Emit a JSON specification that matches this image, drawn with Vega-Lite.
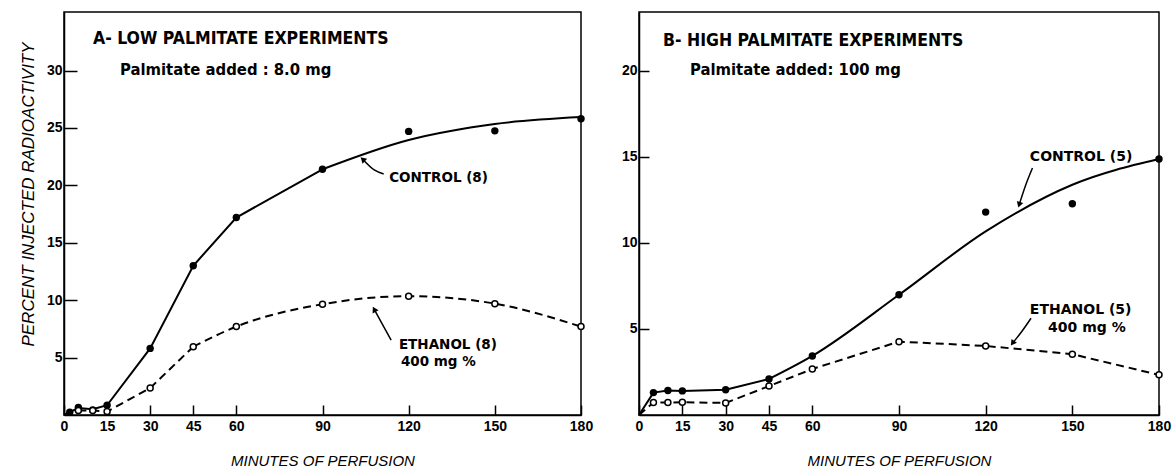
{
  "$schema": "https://vega.github.io/schema/vega-lite/v6.json",
  "background": "white",
  "padding": {"left": 18, "top": 11, "right": 5, "bottom": 5},
  "spacing": 58,
  "bounds": "flush",
  "datasets": {
    "obs": [
      {"panel": "A", "series": "Control", "minutes": 2, "pct": 0.25},
      {"panel": "A", "series": "Control", "minutes": 5, "pct": 0.65},
      {"panel": "A", "series": "Control", "minutes": 10, "pct": 0.45},
      {"panel": "A", "series": "Control", "minutes": 15, "pct": 0.85},
      {"panel": "A", "series": "Control", "minutes": 30, "pct": 5.8},
      {"panel": "A", "series": "Control", "minutes": 45, "pct": 13.0},
      {"panel": "A", "series": "Control", "minutes": 60, "pct": 17.2},
      {"panel": "A", "series": "Control", "minutes": 90, "pct": 21.4},
      {"panel": "A", "series": "Control", "minutes": 120, "pct": 24.7},
      {"panel": "A", "series": "Control", "minutes": 150, "pct": 24.75},
      {"panel": "A", "series": "Control", "minutes": 180, "pct": 25.8},
      {"panel": "A", "series": "Ethanol", "minutes": 5, "pct": 0.4},
      {"panel": "A", "series": "Ethanol", "minutes": 10, "pct": 0.4},
      {"panel": "A", "series": "Ethanol", "minutes": 15, "pct": 0.3},
      {"panel": "A", "series": "Ethanol", "minutes": 30, "pct": 2.35},
      {"panel": "A", "series": "Ethanol", "minutes": 45, "pct": 5.95},
      {"panel": "A", "series": "Ethanol", "minutes": 60, "pct": 7.7},
      {"panel": "A", "series": "Ethanol", "minutes": 90, "pct": 9.65},
      {"panel": "A", "series": "Ethanol", "minutes": 120, "pct": 10.35},
      {"panel": "A", "series": "Ethanol", "minutes": 150, "pct": 9.7},
      {"panel": "A", "series": "Ethanol", "minutes": 180, "pct": 7.7},
      {"panel": "B", "series": "Control", "minutes": 5, "pct": 1.3},
      {"panel": "B", "series": "Control", "minutes": 10, "pct": 1.42},
      {"panel": "B", "series": "Control", "minutes": 15, "pct": 1.4},
      {"panel": "B", "series": "Control", "minutes": 30, "pct": 1.47},
      {"panel": "B", "series": "Control", "minutes": 45, "pct": 2.09},
      {"panel": "B", "series": "Control", "minutes": 60, "pct": 3.43},
      {"panel": "B", "series": "Control", "minutes": 90, "pct": 6.98},
      {"panel": "B", "series": "Control", "minutes": 120, "pct": 11.78},
      {"panel": "B", "series": "Control", "minutes": 150, "pct": 12.27},
      {"panel": "B", "series": "Control", "minutes": 180, "pct": 14.86},
      {"panel": "B", "series": "Ethanol", "minutes": 0, "pct": 0},
      {"panel": "B", "series": "Ethanol", "minutes": 5, "pct": 0.72},
      {"panel": "B", "series": "Ethanol", "minutes": 10, "pct": 0.72},
      {"panel": "B", "series": "Ethanol", "minutes": 15, "pct": 0.74},
      {"panel": "B", "series": "Ethanol", "minutes": 30, "pct": 0.7},
      {"panel": "B", "series": "Ethanol", "minutes": 45, "pct": 1.68},
      {"panel": "B", "series": "Ethanol", "minutes": 60, "pct": 2.67},
      {"panel": "B", "series": "Ethanol", "minutes": 90, "pct": 4.26},
      {"panel": "B", "series": "Ethanol", "minutes": 120, "pct": 4.01},
      {"panel": "B", "series": "Ethanol", "minutes": 150, "pct": 3.53},
      {"panel": "B", "series": "Ethanol", "minutes": 180, "pct": 2.33}
    ],
    "curve": [
      {"panel": "A", "minutes": 0, "pct": 0},
      {"panel": "A", "minutes": 2, "pct": 0.25},
      {"panel": "A", "minutes": 5, "pct": 0.6},
      {"panel": "A", "minutes": 10, "pct": 0.5},
      {"panel": "A", "minutes": 15, "pct": 0.85},
      {"panel": "A", "minutes": 30, "pct": 5.8},
      {"panel": "A", "minutes": 45, "pct": 13.0},
      {"panel": "A", "minutes": 60, "pct": 17.2},
      {"panel": "A", "minutes": 90, "pct": 21.4},
      {"panel": "A", "minutes": 120, "pct": 23.95},
      {"panel": "A", "minutes": 150, "pct": 25.35},
      {"panel": "A", "minutes": 180, "pct": 25.95},
      {"panel": "B", "minutes": 0, "pct": 0},
      {"panel": "B", "minutes": 5, "pct": 1.3},
      {"panel": "B", "minutes": 10, "pct": 1.42},
      {"panel": "B", "minutes": 15, "pct": 1.4},
      {"panel": "B", "minutes": 30, "pct": 1.47},
      {"panel": "B", "minutes": 45, "pct": 2.09},
      {"panel": "B", "minutes": 60, "pct": 3.43},
      {"panel": "B", "minutes": 90, "pct": 6.98},
      {"panel": "B", "minutes": 120, "pct": 10.66},
      {"panel": "B", "minutes": 150, "pct": 13.37},
      {"panel": "B", "minutes": 180, "pct": 14.86}
    ],
    "notes": [
      {"panel": "A", "kind": "title", "label": "A- LOW PALMITATE  EXPERIMENTS", "minutes": 10.1, "pct": 32.75},
      {"panel": "A", "kind": "sub", "label": "Palmitate added :  8.0 mg", "minutes": 19.5, "pct": 30.05},
      {"panel": "A", "kind": "label", "label": "CONTROL (8)", "minutes": 113.2, "pct": 20.64},
      {"panel": "A", "kind": "label", "label": "ETHANOL (8)", "minutes": 116.6, "pct": 6.1},
      {"panel": "A", "kind": "label", "label": "400 mg %", "minutes": 117.3, "pct": 4.62},
      {"panel": "B", "kind": "title", "label": "B- HIGH PALMITATE EXPERIMENTS", "minutes": 8.3, "pct": 21.69},
      {"panel": "B", "kind": "sub", "label": "Palmitate added:  100 mg", "minutes": 17.65, "pct": 20.06},
      {"panel": "B", "kind": "label", "label": "CONTROL (5)", "minutes": 135.3, "pct": 15.0},
      {"panel": "B", "kind": "label", "label": "ETHANOL (5)", "minutes": 135.3, "pct": 6.1},
      {"panel": "B", "kind": "label", "label": "400 mg %", "minutes": 141.6, "pct": 5.06}
    ],
    "arrows": [
      {"panel": "A", "id": "a1", "step": 1, "minutes": 111.3, "pct": 20.99},
      {"panel": "A", "id": "a1", "step": 2, "minutes": 108.0, "pct": 21.34},
      {"panel": "A", "id": "a1", "step": 3, "minutes": 104.0, "pct": 22.27},
      {"panel": "A", "id": "a2", "step": 1, "minutes": 113.9, "pct": 6.53},
      {"panel": "A", "id": "a2", "step": 2, "minutes": 111.3, "pct": 7.69},
      {"panel": "A", "id": "a2", "step": 3, "minutes": 108.0, "pct": 9.21},
      {"panel": "B", "id": "b1", "step": 1, "minutes": 136.2, "pct": 14.34},
      {"panel": "B", "id": "b1", "step": 2, "minutes": 133.9, "pct": 13.37},
      {"panel": "B", "id": "b1", "step": 3, "minutes": 131.6, "pct": 12.21},
      {"panel": "B", "id": "b2", "step": 1, "minutes": 135.7, "pct": 5.62},
      {"panel": "B", "id": "b2", "step": 2, "minutes": 132.5, "pct": 4.85},
      {"panel": "B", "id": "b2", "step": 3, "minutes": 129.3, "pct": 4.17}
    ],
    "heads": [
      {"panel": "A", "minutes": 104.0, "pct": 22.27, "angle": 313},
      {"panel": "A", "minutes": 108.0, "pct": 9.21, "angle": 332},
      {"panel": "B", "minutes": 131.6, "pct": 12.21, "angle": 198},
      {"panel": "B", "minutes": 129.3, "pct": 4.17, "angle": 215}
    ]
  },
  "hconcat": [
    {
      "width": 517,
      "height": 403,
      "encoding": {
        "x": {"field": "minutes", "type": "quantitative",
              "scale": {"domain": [0, 180], "nice": false},
              "axis": {"values": [0, 15, 30, 45, 60, 90, 120, 150, 180], "title": "MINUTES OF PERFUSION",
                       "tickSize": -10, "labelPadding": 14, "labelFlush": false,
                       "titleY": 45, "titleBaseline": "middle"}},
        "y": {"field": "pct", "type": "quantitative",
              "scale": {"domain": [0, 35.1], "nice": false},
              "axis": {"values": [5, 10, 15, 20, 25, 30], "title": "PERCENT INJECTED RADIOACTIVITY",
                       "tickSize": -13, "labelPadding": 15,
                       "titleX": -36, "titleY": 182, "titleAngle": -90, "titleAlign": "center", "titleBaseline": "middle",
                       "titleFontSize": 17}}
      },
      "layer": [
        {"data": {"name": "curve"}, "transform": [{"filter": "datum.panel === 'A' && datum.minutes <= 90"}],
         "mark": {"type": "line", "color": "black", "strokeWidth": 2, "interpolate": "linear"}},
        {"data": {"name": "curve"}, "transform": [{"filter": "datum.panel === 'A' && datum.minutes >= 90"}],
         "mark": {"type": "line", "color": "black", "strokeWidth": 2, "interpolate": "monotone"}},
        {"data": {"name": "obs"}, "transform": [{"filter": "datum.panel === 'A' && datum.series === 'Ethanol' && datum.minutes <= 45"}],
         "mark": {"type": "line", "color": "black", "strokeWidth": 2, "strokeDash": [8, 5], "interpolate": "linear"}},
        {"data": {"name": "obs"}, "transform": [{"filter": "datum.panel === 'A' && datum.series === 'Ethanol' && datum.minutes >= 45"}],
         "mark": {"type": "line", "color": "black", "strokeWidth": 2, "strokeDash": [8, 5], "interpolate": "monotone"}},
        {"data": {"name": "obs"}, "transform": [{"filter": "datum.panel === 'A' && datum.series === 'Control'"}],
         "mark": {"type": "point", "shape": "circle", "filled": true, "color": "black", "size": 55, "opacity": 1}},
        {"data": {"name": "obs"}, "transform": [{"filter": "datum.panel === 'A' && datum.series === 'Ethanol'"}],
         "mark": {"type": "point", "shape": "circle", "filled": true, "fill": "white", "stroke": "black", "strokeWidth": 1.5, "size": 36, "opacity": 1}},
        {"data": {"name": "arrows"}, "transform": [{"filter": "datum.panel === 'A'"}],
         "mark": {"type": "line", "color": "black", "strokeWidth": 1.5, "interpolate": "monotone"},
         "encoding": {"detail": {"field": "id"}, "order": {"field": "step"}}},
        {"data": {"name": "heads"}, "transform": [{"filter": "datum.panel === 'A'"}],
         "mark": {"type": "point", "shape": "triangle-up", "filled": true, "color": "black", "size": 45, "opacity": 1},
         "encoding": {"angle": {"field": "angle", "type": "quantitative", "scale": null}}},
        {"data": {"name": "notes"}, "transform": [{"filter": "datum.panel === 'A' && datum.kind === 'title'"}],
         "mark": {"type": "text", "align": "left", "baseline": "middle", "font": "DejaVu Sans Condensed", "fontWeight": "bold", "fontSize": 17.5, "color": "black"},
         "encoding": {"text": {"field": "label"}}},
        {"data": {"name": "notes"}, "transform": [{"filter": "datum.panel === 'A' && datum.kind === 'sub'"}],
         "mark": {"type": "text", "align": "left", "baseline": "middle", "font": "DejaVu Sans Condensed", "fontWeight": "bold", "fontSize": 16.5, "color": "black"},
         "encoding": {"text": {"field": "label"}}},
        {"data": {"name": "notes"}, "transform": [{"filter": "datum.panel === 'A' && datum.kind === 'label'"}],
         "mark": {"type": "text", "align": "left", "baseline": "middle", "font": "DejaVu Sans", "fontWeight": "bold", "fontSize": 13.5, "color": "black"},
         "encoding": {"text": {"field": "label"}}}
      ]
    },
    {
      "width": 520,
      "height": 403,
      "encoding": {
        "x": {"field": "minutes", "type": "quantitative",
              "scale": {"domain": [0, 180], "nice": false},
              "axis": {"values": [0, 15, 30, 45, 60, 90, 120, 150, 180], "title": "MINUTES OF PERFUSION",
                       "tickSize": -10, "labelPadding": 14, "labelFlush": false,
                       "titleY": 45, "titleBaseline": "middle"}},
        "y": {"field": "pct", "type": "quantitative",
              "scale": {"domain": [0, 23.4], "nice": false},
              "axis": {"values": [5, 10, 15, 20], "title": null,
                       "tickSize": -10, "labelPadding": 12}}
      },
      "layer": [
        {"data": {"name": "curve"}, "transform": [{"filter": "datum.panel === 'B' && datum.minutes <= 45"}],
         "mark": {"type": "line", "color": "black", "strokeWidth": 2, "interpolate": "linear"}},
        {"data": {"name": "curve"}, "transform": [{"filter": "datum.panel === 'B' && datum.minutes >= 45"}],
         "mark": {"type": "line", "color": "black", "strokeWidth": 2, "interpolate": "monotone"}},
        {"data": {"name": "obs"}, "transform": [{"filter": "datum.panel === 'B' && datum.series === 'Ethanol'"}],
         "mark": {"type": "line", "color": "black", "strokeWidth": 2, "strokeDash": [8, 5]}},
        {"data": {"name": "obs"}, "transform": [{"filter": "datum.panel === 'B' && datum.series === 'Control'"}],
         "mark": {"type": "point", "shape": "circle", "filled": true, "color": "black", "size": 55, "opacity": 1}},
        {"data": {"name": "obs"}, "transform": [{"filter": "datum.panel === 'B' && datum.series === 'Ethanol' && datum.minutes > 0"}],
         "mark": {"type": "point", "shape": "circle", "filled": true, "fill": "white", "stroke": "black", "strokeWidth": 1.5, "size": 36, "opacity": 1}},
        {"data": {"name": "arrows"}, "transform": [{"filter": "datum.panel === 'B'"}],
         "mark": {"type": "line", "color": "black", "strokeWidth": 1.5, "interpolate": "monotone"},
         "encoding": {"detail": {"field": "id"}, "order": {"field": "step"}}},
        {"data": {"name": "heads"}, "transform": [{"filter": "datum.panel === 'B'"}],
         "mark": {"type": "point", "shape": "triangle-up", "filled": true, "color": "black", "size": 45, "opacity": 1},
         "encoding": {"angle": {"field": "angle", "type": "quantitative", "scale": null}}},
        {"data": {"name": "notes"}, "transform": [{"filter": "datum.panel === 'B' && datum.kind === 'title'"}],
         "mark": {"type": "text", "align": "left", "baseline": "middle", "font": "DejaVu Sans Condensed", "fontWeight": "bold", "fontSize": 17.5, "color": "black"},
         "encoding": {"text": {"field": "label"}}},
        {"data": {"name": "notes"}, "transform": [{"filter": "datum.panel === 'B' && datum.kind === 'sub'"}],
         "mark": {"type": "text", "align": "left", "baseline": "middle", "font": "DejaVu Sans Condensed", "fontWeight": "bold", "fontSize": 16.5, "color": "black"},
         "encoding": {"text": {"field": "label"}}},
        {"data": {"name": "notes"}, "transform": [{"filter": "datum.panel === 'B' && datum.kind === 'label'"}],
         "mark": {"type": "text", "align": "left", "baseline": "middle", "font": "DejaVu Sans", "fontWeight": "bold", "fontSize": 14, "color": "black"},
         "encoding": {"text": {"field": "label"}}}
      ]
    }
  ],
  "config": {
    "view": {"stroke": "black", "strokeWidth": 1.5},
    "axis": {
      "grid": false,
      "domainColor": "black", "domainWidth": 1.5,
      "tickColor": "black", "tickWidth": 1.5,
      "labelColor": "black", "labelFont": "Liberation Sans", "labelFontWeight": "bold", "labelFontSize": 14,
      "titleColor": "black", "titleFont": "Liberation Sans", "titleFontStyle": "italic", "titleFontWeight": "normal", "titleFontSize": 15
    }
  }
}
